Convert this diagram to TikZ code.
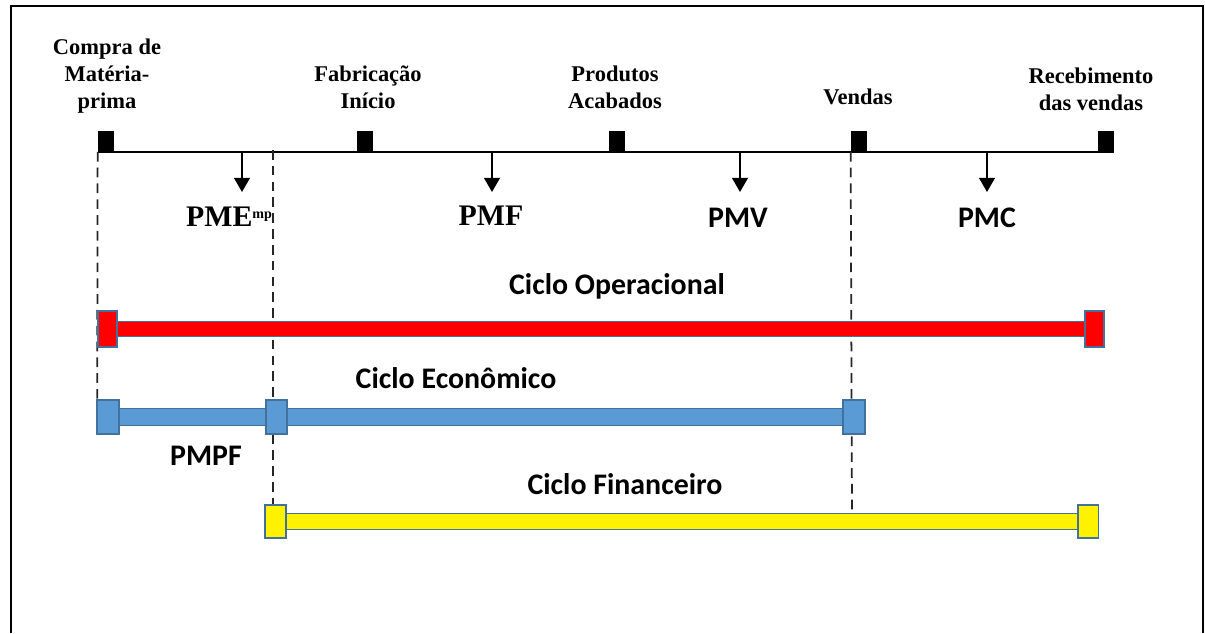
\documentclass[tikz,border=0pt]{standalone}
\usepackage{fontspec}
\setmainfont{Liberation Serif}
\newfontfamily\calibri{Carlito}
\usetikzlibrary{arrows.meta}

\definecolor{contorno}{HTML}{41719C}
\definecolor{azul}{HTML}{5B9BD5}

\tikzset{
  marco/.style={line width=1.6pt},
  marca/.style={fill=black, inner sep=0pt, minimum width=0.32cm, minimum height=0.42cm},
  evento/.style={font=\bfseries\fontsize{12.8}{15.5}\selectfont, align=center},
  prazo/.style={font=\bfseries\fontsize{17}{20}\selectfont},
  prazosf/.style={font=\calibri\bfseries\fontsize{17}{20}\selectfont},
  seta/.style={-{Triangle[width=9pt,length=8pt]}, line width=0.8pt},
  guia/.style={draw=black!85, line width=1pt, dash pattern=on 5.5pt off 3.5pt},
  tampa/.style={draw=contorno, line width=0.9pt, inner sep=0pt},
  barra/.style={draw=contorno, line width=0.6pt}
}

\begin{document}
\begin{tikzpicture}[x=0.02cm, y=-0.02cm]
  \useasboundingbox (0,0) rectangle (1205,633);
  \draw[marco] (11,633) -- (11,6) -- (1203,6) -- (1203,633);

  % eventos
  \node[marca] (compra) at (106,141) {};
  \node[marca] (fabric) at (364.5,141) {};
  \node[marca] (prod) at (617,141) {};
  \node[marca] (vendas) at (859,141) {};
  \node[marca] (receb) at (1105.5,141) {};
  \draw[line width=1pt] (compra.south west) -- (receb.south east);

  \node[evento] (tcompra) at (107,76) {Compra de\\Matéria-\\prima};
  \node[evento] (tfabric) at (368,87) {Fabricação\\Início};
  \node[evento] (tprod) at (615,87) {Produtos\\Acabados};
  \node[evento] (tvendas) at (858,97) {Vendas};
  \node[evento] (treceb) at (1091,89) {Recebimento\\das vendas};

  % prazos medios
  \foreach \x/\n in {242/a, 492/b, 740/c, 987/d} {
    \coordinate (s\n) at (\x,152);
    \coordinate (e\n) at (\x,192);
    \draw[seta] (s\n) -- (e\n);
  }
  \node[prazo] (pme) at (229,217) {PME\raisebox{0.6ex}{\fontsize{8}{8}\selectfont mp}};
  \node[prazo] (pmf) at (491,216) {PMF};
  \node[prazosf] (pmv) at (738,218) {PMV};
  \node[prazosf] (pmc) at (987,218) {PMC};

  % ciclos
  \node[tampa, fill=red, minimum width=0.34cm, minimum height=0.68cm] (opA) at (107.5,329) {};
  \node[tampa, fill=red, minimum width=0.34cm, minimum height=0.68cm] (opB) at (1094.5,329) {};
  \node[tampa, fill=azul, minimum width=0.40cm, minimum height=0.64cm] (ecA) at (108,417) {};
  \node[tampa, fill=azul, minimum width=0.40cm, minimum height=0.64cm] (ecB) at (276.5,417) {};
  \node[tampa, fill=azul, minimum width=0.40cm, minimum height=0.64cm] (ecC) at (854,417) {};
  \node[tampa, fill=yellow, minimum width=0.38cm, minimum height=0.62cm] (fiA) at (275.5,521.5) {};
  \node[tampa, fill=yellow, minimum width=0.38cm, minimum height=0.62cm] (fiB) at (1088,521.5) {};

  \coordinate (g2) at (273,150);
  \coordinate (g3) at (852,513);
  \draw[guia] (compra.south west) -- (ecA.north west);
  \draw[guia] (g2) -- (fiA.north -| g2);
  \draw[guia] (vendas.south west) -- (g3);

  \draw[barra, double=red, double distance=7.6pt] (opA) -- (opB);
  \draw[barra, double=azul, double distance=8.6pt] (ecA) -- (ecB);
  \draw[barra, double=azul, double distance=8.6pt] (ecB) -- (ecC);
  \draw[barra, double=yellow, double distance=9pt] (fiA) -- (fiB);
  \foreach \n/\c in {opA/red, opB/red, ecA/azul, ecB/azul, ecC/azul, fiA/yellow, fiB/yellow}
    \draw[tampa, fill=\c] (\n.south west) rectangle (\n.north east);

  \node[prazosf] (cop) at (617,286) {Ciclo Operacional};
  \node[prazosf] (cec) at (456,378) {Ciclo Econômico};
  \node[prazosf] (cfi) at (625,484) {Ciclo Financeiro};
  \node[prazosf] (pmpf) at (206,456) {PMPF};
\end{tikzpicture}
\end{document}
